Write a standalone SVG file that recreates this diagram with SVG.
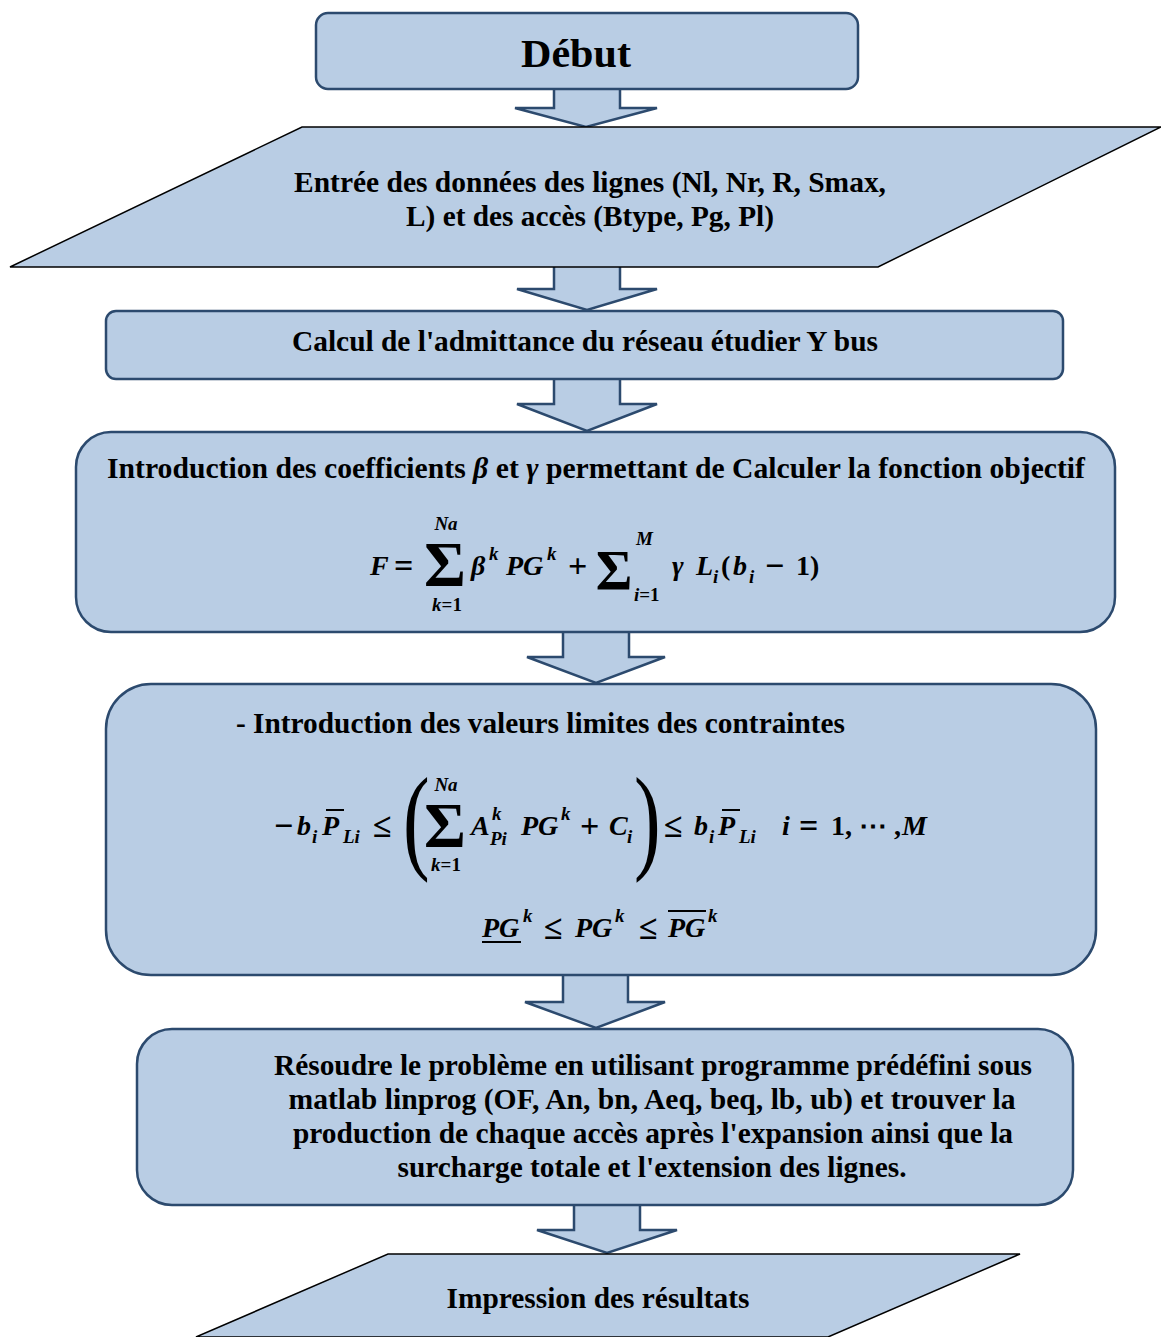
<svg xmlns="http://www.w3.org/2000/svg" width="1161" height="1337" viewBox="0 0 1161 1337">
<style>
.box{fill:#b9cde4;stroke:#2c4a6e;stroke-width:2.5}
.para{fill:#b9cde4;stroke:#000;stroke-width:1.5}
.arr{fill:#b9cde4;stroke:#2c4a6e;stroke-width:2.5;stroke-linejoin:miter}
text{font-family:"Liberation Serif","Times New Roman",serif;fill:#000}
.t{font-weight:bold;font-size:29px}
.m{font-weight:bold;font-style:italic;font-size:28px}
.u{font-weight:bold;font-size:28px}
.op{font-weight:bold;font-size:34px}
.s{font-weight:bold;font-style:italic;font-size:19px}
.big{font-weight:bold}
.par{font-weight:normal}
.ln{stroke:#000;stroke-width:2}
</style>
<rect width="1161" height="1337" fill="#fff"/>
<g id="connectors">
<path class="arr" d="M554,89 V108 H515 L586,127 L657,108 H620 V89"/>
<path class="arr" d="M554,267 V289 H517 L587,310 L657,289 H620 V267"/>
<path class="arr" d="M554,379 V404 H517 L587,431 L657,404 H620 V379"/>
<path class="arr" d="M563,632 V657 H527 L596,683 L665,657 H629 V632"/>
<path class="arr" d="M563,975 V1002 H525 L596,1028 L665,1002 H628 V975"/>
<path class="arr" d="M574,1205 V1230 H537 L607,1253 L677,1230 H640 V1205"/>
</g>
<g id="start">
<rect class="box" x="316" y="13" width="542" height="76" rx="12"/>
<text class="t" x="576" y="67" text-anchor="middle" style="font-size:41px" textLength="110" lengthAdjust="spacingAndGlyphs">Début</text>
</g>
<g id="input">
<polygon class="para" points="302,127 1161,127 878,267 10,267"/>
<text class="t" x="590" y="192" text-anchor="middle" textLength="592" lengthAdjust="spacingAndGlyphs">Entrée des données des lignes (Nl, Nr, R, Smax,</text>
<text class="t" x="590" y="226" text-anchor="middle" textLength="368" lengthAdjust="spacingAndGlyphs">L) et des accès (Btype, Pg, Pl)</text>
</g>
<g id="ybus">
<rect class="box" x="106" y="311" width="957" height="68" rx="10"/>
<text class="t" x="585" y="351" text-anchor="middle" textLength="586" lengthAdjust="spacingAndGlyphs">Calcul de l'admittance du réseau étudier Y bus</text>
</g>
<g id="objective">
<rect class="box" x="76" y="432" width="1039" height="200" rx="35"/>
<text class="t" x="107" y="478" textLength="978" lengthAdjust="spacingAndGlyphs">Introduction des coefficients <tspan font-style="italic">β</tspan> et <tspan font-style="italic">γ</tspan> permettant de Calculer la fonction objectif</text>
<text class="m" x="370" y="575">F</text>
<text class="op" x="394" y="577">=</text>
<text class="big" x="445" y="586" text-anchor="middle" style="font-size:64px">Σ</text>
<text class="s" x="446" y="530" text-anchor="middle">Na</text>
<text class="s" x="447" y="611" text-anchor="middle">k<tspan font-style="normal">=1</tspan></text>
<text class="m" x="471" y="575">β</text>
<text class="s" x="489" y="560">k</text>
<text class="m" x="506" y="575">PG</text>
<text class="s" x="547" y="560">k</text>
<text class="op" x="568" y="577">+</text>
<text class="big" x="614" y="590" text-anchor="middle" style="font-size:56px">Σ</text>
<text class="s" x="636" y="545">M</text>
<text class="s" x="634" y="601">i<tspan font-style="normal">=1</tspan></text>
<text class="m" x="672" y="575">γ</text>
<text class="m" x="696" y="575">L</text>
<text class="s" x="713" y="583">i</text>
<text class="u" x="721" y="575">(</text>
<text class="m" x="733" y="575">b</text>
<text class="s" x="749" y="583">i</text>
<text class="op" x="765" y="577">−</text>
<text class="u" x="796" y="575">1)</text>
</g>
<g id="constraints">
<rect class="box" x="106" y="684" width="990" height="291" rx="45"/>
<text class="t" x="236" y="733" textLength="609" lengthAdjust="spacingAndGlyphs">- Introduction des valeurs limites des contraintes</text>
<text class="op" x="274" y="837">−</text>
<text class="m" x="297" y="835">b</text>
<text class="s" x="312" y="843">i</text>
<text class="m" x="322" y="835">P</text>
<line class="ln" x1="326" y1="810" x2="344" y2="810"/>
<text class="s" x="343" y="843">Li</text>
<text class="op" x="373" y="837">≤</text>
<text class="par" x="0" y="0" style="font-size:80px" transform="translate(403,858) scale(1,1.45)">(</text>
<text class="s" x="446" y="791" text-anchor="middle">Na</text>
<text class="big" x="445" y="847" text-anchor="middle" style="font-size:64px">Σ</text>
<text class="s" x="446" y="871" text-anchor="middle">k<tspan font-style="normal">=1</tspan></text>
<text class="m" x="471" y="835">A</text>
<text class="s" x="492" y="820">k</text>
<text class="s" x="490" y="845">Pi</text>
<text class="m" x="521" y="835">PG</text>
<text class="s" x="561" y="820">k</text>
<text class="op" x="580" y="837">+</text>
<text class="m" x="609" y="835">C</text>
<text class="s" x="627" y="843">i</text>
<text class="par" x="0" y="0" style="font-size:80px" transform="translate(634,858) scale(1,1.45)">)</text>
<text class="op" x="664" y="837">≤</text>
<text class="m" x="694" y="835">b</text>
<text class="s" x="709" y="843">i</text>
<text class="m" x="718" y="835">P</text>
<line class="ln" x1="722" y1="810" x2="740" y2="810"/>
<text class="s" x="739" y="843">Li</text>
<text class="m" x="782" y="835">i</text>
<text class="op" x="799" y="837">=</text>
<text class="u" x="831" y="835">1, ⋯ ,</text>
<text class="m" x="902" y="835">M</text>
<text class="m" x="482" y="937">PG</text>
<line class="ln" x1="482" y1="942" x2="521" y2="942"/>
<text class="s" x="523" y="922">k</text>
<text class="op" x="544" y="939">≤</text>
<text class="m" x="575" y="937">PG</text>
<text class="s" x="615" y="922">k</text>
<text class="op" x="639" y="939">≤</text>
<text class="m" x="668" y="937">PG</text>
<line class="ln" x1="668" y1="911" x2="706" y2="911"/>
<text class="s" x="708" y="922">k</text>
</g>
<g id="solve">
<rect class="box" x="137" y="1029" width="936" height="176" rx="35"/>
<text class="t" x="653" y="1075" text-anchor="middle" textLength="758" lengthAdjust="spacingAndGlyphs">Résoudre le problème en utilisant programme prédéfini sous</text>
<text class="t" x="652" y="1109" text-anchor="middle" textLength="727" lengthAdjust="spacingAndGlyphs">matlab linprog (OF, An, bn, Aeq, beq, lb, ub) et trouver la</text>
<text class="t" x="653" y="1143" text-anchor="middle" textLength="720" lengthAdjust="spacingAndGlyphs">production de chaque accès après l'expansion ainsi que la</text>
<text class="t" x="652" y="1177" text-anchor="middle" textLength="509" lengthAdjust="spacingAndGlyphs">surcharge totale et l'extension des lignes.</text>
</g>
<g id="output">
<polygon class="para" points="388,1254 1020,1254 828,1337 196,1337"/>
<text class="t" x="598" y="1308" text-anchor="middle" textLength="303" lengthAdjust="spacingAndGlyphs">Impression des résultats</text>
</g>
</svg>
